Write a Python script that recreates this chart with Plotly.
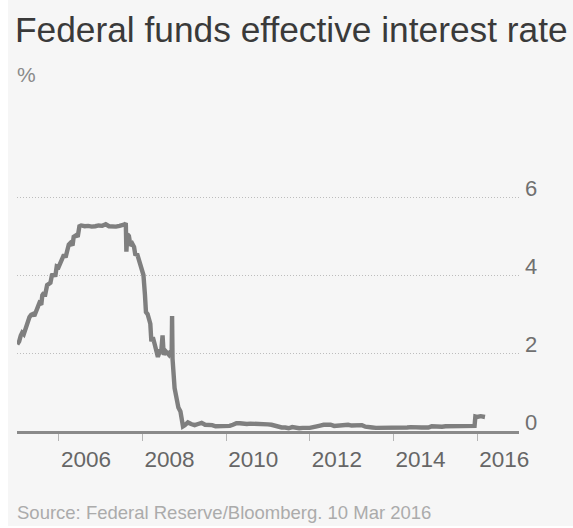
import plotly.graph_objects as go

# Federal funds effective rate, %, Jan 2005 - Mar 2016
dates = [
    "2005-01-03", "2005-01-20", "2005-02-03", "2005-02-15", "2005-03-01", "2005-03-24",
    "2005-04-08", "2005-04-20", "2005-05-05", "2005-05-20", "2005-06-01", "2005-06-15",
    "2005-07-01", "2005-07-15", "2005-08-01", "2005-08-10", "2005-08-25", "2005-09-01",
    "2005-09-21", "2005-10-05", "2005-10-20", "2005-11-02", "2005-11-20", "2005-12-01",
    "2005-12-14", "2005-12-30", "2006-01-12", "2006-02-01", "2006-02-15", "2006-03-01",
    "2006-03-29", "2006-04-12", "2006-05-01", "2006-05-11", "2006-06-01", "2006-06-15",
    "2006-06-30", "2006-07-15", "2006-08-15", "2006-09-15", "2006-10-15", "2006-11-15",
    "2006-12-15", "2007-01-15", "2007-02-15", "2007-03-15", "2007-04-15", "2007-05-15",
    "2007-06-15", "2007-07-15", "2007-08-01", "2007-08-09", "2007-08-14", "2007-08-22",
    "2007-09-05", "2007-09-19", "2007-10-05", "2007-10-20", "2007-11-01", "2007-11-15",
    "2007-12-01", "2007-12-12", "2007-12-28", "2008-01-10", "2008-01-23", "2008-02-01",
    "2008-02-15", "2008-03-01", "2008-03-10", "2008-03-19", "2008-04-01", "2008-04-15",
    "2008-05-01", "2008-05-15", "2008-06-01", "2008-06-15", "2008-06-25", "2008-07-05",
    "2008-07-20", "2008-08-01", "2008-08-20", "2008-09-05", "2008-09-12", "2008-09-16",
    "2008-09-18", "2008-09-20", "2008-10-08", "2008-10-25", "2008-11-10", "2008-11-28",
    "2008-12-10", "2008-12-20", "2009-01-05", "2009-02-01", "2009-03-01", "2009-04-01",
    "2009-05-01", "2009-06-01", "2009-07-01", "2009-08-01", "2009-09-01", "2009-10-01",
    "2009-11-01", "2009-12-01", "2010-01-01", "2010-02-01", "2010-03-01", "2010-04-01",
    "2010-05-01", "2010-06-01", "2010-07-01", "2010-08-01", "2010-09-01", "2010-10-01",
    "2010-11-01", "2010-12-01", "2011-01-01", "2011-02-01", "2011-03-01", "2011-04-01",
    "2011-05-01", "2011-06-01", "2011-07-01", "2011-08-01", "2011-09-01", "2011-10-01",
    "2011-11-01", "2011-12-01", "2012-01-01", "2012-02-01", "2012-03-01", "2012-04-01",
    "2012-05-01", "2012-06-01", "2012-07-01", "2012-08-01", "2012-09-01", "2012-10-01",
    "2012-11-01", "2012-12-01", "2013-01-01", "2013-02-01", "2013-03-01", "2013-04-01",
    "2013-05-01", "2013-06-01", "2013-07-01", "2013-08-01", "2013-09-01", "2013-10-01",
    "2013-11-01", "2013-12-01", "2014-01-01", "2014-02-01", "2014-03-01", "2014-04-01",
    "2014-05-01", "2014-06-01", "2014-07-01", "2014-08-01", "2014-09-01", "2014-10-01",
    "2014-11-01", "2014-12-01", "2015-01-01", "2015-02-01", "2015-03-01", "2015-04-01",
    "2015-05-01", "2015-06-01", "2015-07-01", "2015-08-01", "2015-09-01", "2015-10-01",
    "2015-11-01", "2015-12-10", "2015-12-17", "2016-01-01", "2016-02-01", "2016-03-10",
]
rates = [
    2.22, 2.30, 2.45, 2.52, 2.48, 2.70,
    2.80, 2.92, 2.98, 3.00, 2.95, 3.06,
    3.20, 3.28, 3.24, 3.48, 3.55, 3.45,
    3.74, 3.78, 3.80, 4.00, 4.02, 3.96,
    4.22, 4.20, 4.30, 4.48, 4.52, 4.45,
    4.78, 4.82, 4.76, 4.98, 5.02, 4.98,
    5.25, 5.27, 5.25, 5.26, 5.24, 5.25,
    5.27, 5.26, 5.30, 5.25, 5.24, 5.24,
    5.26, 5.27, 5.30, 5.33, 4.60, 5.05,
    5.00, 4.75, 4.80, 4.72, 4.50, 4.55,
    4.40, 4.22, 4.10, 4.00, 3.50, 3.05,
    3.00, 2.85, 2.75, 2.30, 2.40, 2.25,
    2.00, 1.90, 2.05, 2.10, 2.45, 1.95,
    2.05, 2.00, 1.95, 2.05, 1.90, 2.95,
    2.00, 1.85, 1.10, 0.80, 0.60, 0.50,
    0.20, 0.12, 0.15, 0.22, 0.18, 0.15,
    0.18, 0.21, 0.16, 0.16, 0.15, 0.12,
    0.12, 0.12, 0.11, 0.13, 0.16, 0.20,
    0.20, 0.18, 0.18, 0.19, 0.19, 0.19,
    0.19, 0.18, 0.17, 0.16, 0.14, 0.10,
    0.09, 0.09, 0.07, 0.10, 0.08, 0.07,
    0.08, 0.07, 0.08, 0.10, 0.13, 0.14,
    0.16, 0.16, 0.16, 0.13, 0.14, 0.16,
    0.16, 0.16, 0.14, 0.15, 0.14, 0.15,
    0.11, 0.09, 0.09, 0.08, 0.08, 0.09,
    0.08, 0.09, 0.07, 0.07, 0.08, 0.09,
    0.09, 0.10, 0.09, 0.09, 0.09, 0.09,
    0.09, 0.12, 0.11, 0.11, 0.11, 0.12,
    0.12, 0.13, 0.13, 0.14, 0.14, 0.12,
    0.12, 0.13, 0.37, 0.36, 0.38, 0.36,
]

x_range = ["2005-01-01", "2017-01-01"]
x_tick0 = "2006-01-01"
y_ticks = [0, 2, 4, 6]

W, H = 573, 528
ML, MR, MT, MB = 17, 54, 158, 97
PW, PH = W - ML - MR, H - MT - MB

fig = go.Figure(
    go.Scatter(
        x=dates, y=rates, mode="lines",
        line=dict(color="#7f7f7f", width=4.4),
        hoverinfo="skip",
    )
)

font_family = "Liberation Sans, Arial, sans-serif"

fig.update_layout(
    width=W, height=H,
    margin=dict(l=ML, r=MR, t=MT, b=MB, pad=0),
    paper_bgcolor="#f6f6f6",
    plot_bgcolor="#f6f6f6",
    showlegend=False,
    font=dict(family=font_family),
    title=dict(
        text="Federal funds effective interest rate",
        font=dict(size=35.3, color="#3a3a3a", family=font_family),
        x=15 / W, xanchor="left", xref="container",
        y=1 - 17 / H, yanchor="top", yref="container",
    ),
    xaxis=dict(
        type="date",
        range=x_range,
        tick0=x_tick0, dtick="M24",
        tickformat="%Y",
        ticks="outside", ticklen=7, tickwidth=1.2, tickcolor="#b5b5b5",
        ticklabelposition="outside right",
        ticklabelstandoff=6,
        tickfont=dict(size=22.5, color="#666666"),
        showline=True, linecolor="#8a8a8a", linewidth=3,
        showgrid=False, zeroline=False,
        fixedrange=True,
    ),
    yaxis=dict(
        range=[0, 7],
        tickvals=y_ticks,
        side="right",
        ticks="",
        ticklabelposition="outside top",
        ticklabelstandoff=5,
        ticklabelshift=7,
        tickfont=dict(size=22, color="#707070"),
        showgrid=True, gridcolor="#bdbdbd", gridwidth=1, griddash="1px,2px",
        zeroline=False, showline=False,
        fixedrange=True,
    ),
    annotations=[
        dict(
            text="%", xref="paper", yref="paper",
            x=(15 - ML) / PW, y=(431 - 88) / PH,
            xanchor="left", yanchor="bottom", showarrow=False,
            font=dict(size=21, color="#8a8a8a"),
        ),
        dict(
            text="Source: Federal Reserve/Bloomberg. 10 Mar 2016",
            xref="paper", yref="paper",
            x=(15 - ML) / PW, y=(431 - 525) / PH,
            xanchor="left", yanchor="bottom", showarrow=False,
            font=dict(size=18.5, color="#ababab"),
        ),
    ],
    shapes=[
        # white strip along the left edge of the card
        dict(
            type="rect", xref="paper", yref="paper", layer="above",
            x0=-ML / PW, x1=(8 - ML) / PW, y0=-MB / PH - 0.01, y1=1 + MT / PH + 0.01,
            fillcolor="white", line=dict(width=0),
        ),
        dict(
            type="rect", xref="paper", yref="paper", layer="above",
            x0=-ML / PW, x1=1 + MR / PW, y0=-MB / PH - 0.01, y1=(431 - 526) / PH,
            fillcolor="white", line=dict(width=0),
        ),
    ],
)

fig.write_html("out.html", config={"displayModeBar": False})
